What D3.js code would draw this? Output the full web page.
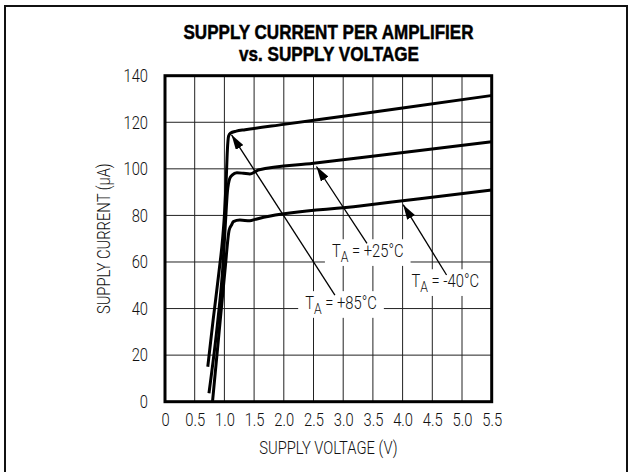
<html>
  <head>
    <meta charset="utf-8">
    <title>Supply current per amplifier vs supply voltage</title>
    <style>
      body { margin: 0; background: #fff; }
      text { font-family: Roboto, "Liberation Sans", sans-serif; font-weight: 300; }
      text.title { font-family: "Liberation Sans Narrow", "Liberation Sans", sans-serif; font-weight: bold; }
    </style>
  </head>
  <body>
    <script src="https://cdn.jsdelivr.net/npm/d3@7/dist/d3.min.js"></script>
    <script>

    var width = 632,
        height = 472;

    // curves (V, uA)
    var volts85 = [0.72, 0.81, 0.91, 0.97, 1.00, 1.03, 1.05, 1.07, 1.10, 1.20, 1.35, 2.0, 3.0, 4.0, 5.5];
    var amps85  = [15.0, 35.0, 56.0, 70.0, 80.0, 95.0, 108.0, 114.0, 115.3, 116.2, 116.8, 119.1, 122.6, 126.1, 131.5];

    var volts25 = [0.74, 0.89, 0.97, 1.02, 1.05, 1.09, 1.13, 1.21, 1.32, 1.43, 1.52, 1.57, 2.5, 3.28, 4.29, 5.5];
    var amps25  = [3.6, 35.0, 56.5, 78.0, 90.0, 95.9, 97.3, 98.3, 98.1, 97.8, 98.8, 99.5, 102.4, 104.8, 107.9, 111.6];

    var volts40 = [0.80, 0.93, 1.01, 1.08, 1.12, 1.15, 1.26, 1.43, 1.52, 1.66, 3.28, 4.29, 5.5];
    var amps40  = [0.0, 35.0, 56.5, 73.7, 75.9, 77.3, 78.0, 77.7, 78.3, 79.2, 84.0, 87.2, 90.9];

    var xTicks = [0, 0.5, 1.0, 1.5, 2.0, 2.5, 3.0, 3.5, 4.0, 4.5, 5.0, 5.5];
    var xTickLabels = ["0", "0.5", "1.0", "1.5", "2.0", "2.5", "3.0", "3.5", "4.0", "4.5", "5.0", "5.5"];
    var yTicks = [0, 20, 40, 60, 80, 100, 120, 140];

    // annotation labels: text start (V, uA), arrow tail and tip (V, uA)
    var labelTemps = ["+85°C", "+25°C", "-40°C"];
    var labelAt    = [[2.36, 40.0], [2.81, 62.3], [4.15, 49.4]];
    var arrowFrom  = [[2.86, 45.8], [3.40, 68.0], [4.74, 54.4]];
    var arrowTo    = [[1.12, 114.6], [2.55, 101.0], [4.01, 84.6]];

    var plot = {left: 165, right: 491.7, top: 75.7, bottom: 401.7};
    var sx = 0.82;   // horizontal squeeze to get a condensed face
    var fs = 18;

    var x = d3.scaleLinear().domain([0, 5.5]).range([plot.left, plot.right]);
    var y = d3.scaleLinear().domain([0, 140]).range([plot.bottom, plot.top]);

    var svg = d3.select("body")
                .append("svg")
                .attr("width", width)
                .attr("height", height);

    // outer frame (bottom runs off the page)
    svg.append("rect")
       .attr("x", 5).attr("y", 6)
       .attr("width", 622).attr("height", 480)
       .attr("fill", "none").attr("stroke", "#111").attr("stroke-width", 2);

    // title
    svg.append("text")
       .attr("class", "title")
       .attr("x", 328.5).attr("y", 39)
       .attr("text-anchor", "middle").attr("font-size", 21)
       .attr("stroke", "#000").attr("stroke-width", 0.5)
       .attr("textLength", 290).attr("lengthAdjust", "spacingAndGlyphs")
       .text("SUPPLY CURRENT PER AMPLIFIER");
    svg.append("text")
       .attr("class", "title")
       .attr("x", 329).attr("y", 61)
       .attr("text-anchor", "middle").attr("font-size", 21)
       .attr("stroke", "#000").attr("stroke-width", 0.5)
       .attr("textLength", 180).attr("lengthAdjust", "spacingAndGlyphs")
       .text("vs. SUPPLY VOLTAGE");

    // grid
    var grid = svg.append("g").attr("stroke", "#222").attr("stroke-width", 1);
    grid.selectAll("line.v")
        .data(xTicks.slice(1, -1))
        .enter().append("line")
        .attr("class", "v")
        .attr("x1", function(d){ return x(d); }).attr("x2", function(d){ return x(d); })
        .attr("y1", plot.top).attr("y2", plot.bottom);
    grid.selectAll("line.h")
        .data(yTicks.slice(1, -1))
        .enter().append("line")
        .attr("class", "h")
        .attr("x1", plot.left).attr("x2", plot.right)
        .attr("y1", function(d){ return y(d); }).attr("y2", function(d){ return y(d); });

    // axes: labels only, the frame is drawn below
    var xAxis = svg.append("g")
        .attr("transform", "translate(0," + plot.bottom + ")")
        .call(d3.axisBottom(x).tickValues(xTicks).tickSize(0).tickPadding(12)
                .tickFormat(function(d, i){ return xTickLabels[i]; }));
    var yAxis = svg.append("g")
        .attr("transform", "translate(" + plot.left + ",0)")
        .call(d3.axisLeft(y).tickValues(yTicks).tickSize(0).tickPadding(17 / sx));
    [xAxis, yAxis].forEach(function(a){
        a.select(".domain").remove();
        a.attr("font-family", null).attr("font-size", null);
        a.selectAll("text")
         .attr("font-size", fs).attr("fill", "#111")
         .attr("transform", "scale(" + sx + ",1)");
    });

    svg.append("rect")
       .attr("x", plot.left).attr("y", plot.top)
       .attr("width", plot.right - plot.left).attr("height", plot.bottom - plot.top)
       .attr("fill", "none").attr("stroke", "#000").attr("stroke-width", 3);

    // axis titles
    svg.append("text")
       .attr("transform", "translate(" + ((plot.left + plot.right) / 2) + ",454) scale(" + sx + ",1)")
       .attr("text-anchor", "middle").attr("font-size", fs).attr("fill", "#111")
       .text("SUPPLY VOLTAGE (V)");
    svg.append("text")
       .attr("transform", "translate(110," + ((plot.top + plot.bottom) / 2) + ") rotate(-90) scale(" + sx + ",1)")
       .attr("text-anchor", "middle").attr("font-size", fs).attr("fill", "#111")
       .text("SUPPLY CURRENT (μA)");

    // annotation labels with white backing
    var labels = svg.append("g");
    labelTemps.forEach(function(t, i){
        var g = labels.append("g")
            .attr("transform", "translate(" + x(labelAt[i][0]) + "," + y(labelAt[i][1]) + ") scale(" + sx + ",1)");
        var tx = g.append("text")
            .attr("font-size", fs).attr("fill", "#111");
        tx.append("tspan").text("T");
        tx.append("tspan").attr("font-size", 15).attr("dy", 5).text("A");
        tx.append("tspan").attr("dy", -5).text(" = " + t);
        var b = tx.node().getBBox();
        g.insert("rect", "text")
            .attr("x", b.x - 7 / sx).attr("y", b.y - 1)
            .attr("width", b.width + 14 / sx).attr("height", b.height + 2)
            .attr("fill", "#fff");
    });

    // curves
    var line = d3.line()
        .x(function(d){ return x(d[0]); })
        .y(function(d){ return y(d[1]); })
        .curve(d3.curveMonotoneX);

    var series = [d3.zip(volts85, amps85), d3.zip(volts25, amps25), d3.zip(volts40, amps40)];
    svg.append("g")
       .selectAll("path")
       .data(series)
       .enter().append("path")
       .attr("d", line)
       .attr("fill", "none").attr("stroke", "#000")
       .attr("stroke-width", 3).attr("stroke-linejoin", "round");

    // arrows
    svg.append("defs").append("marker")
       .attr("id", "head")
       .attr("markerUnits", "userSpaceOnUse")
       .attr("viewBox", "0 0 15 9")
       .attr("refX", 15).attr("refY", 4.5)
       .attr("markerWidth", 15).attr("markerHeight", 9)
       .attr("orient", "auto")
       .append("path").attr("d", "M0,0L15,4.5L0,9Z").attr("fill", "#000");

    svg.append("g")
       .selectAll("line")
       .data(arrowFrom)
       .enter().append("line")
       .attr("x1", function(d){ return x(d[0]); })
       .attr("y1", function(d){ return y(d[1]); })
       .attr("x2", function(d, i){ return x(arrowTo[i][0]); })
       .attr("y2", function(d, i){ return y(arrowTo[i][1]); })
       .attr("stroke", "#000").attr("stroke-width", 1.3)
       .attr("marker-end", "url(#head)");

    </script>
  </body>
</html>
